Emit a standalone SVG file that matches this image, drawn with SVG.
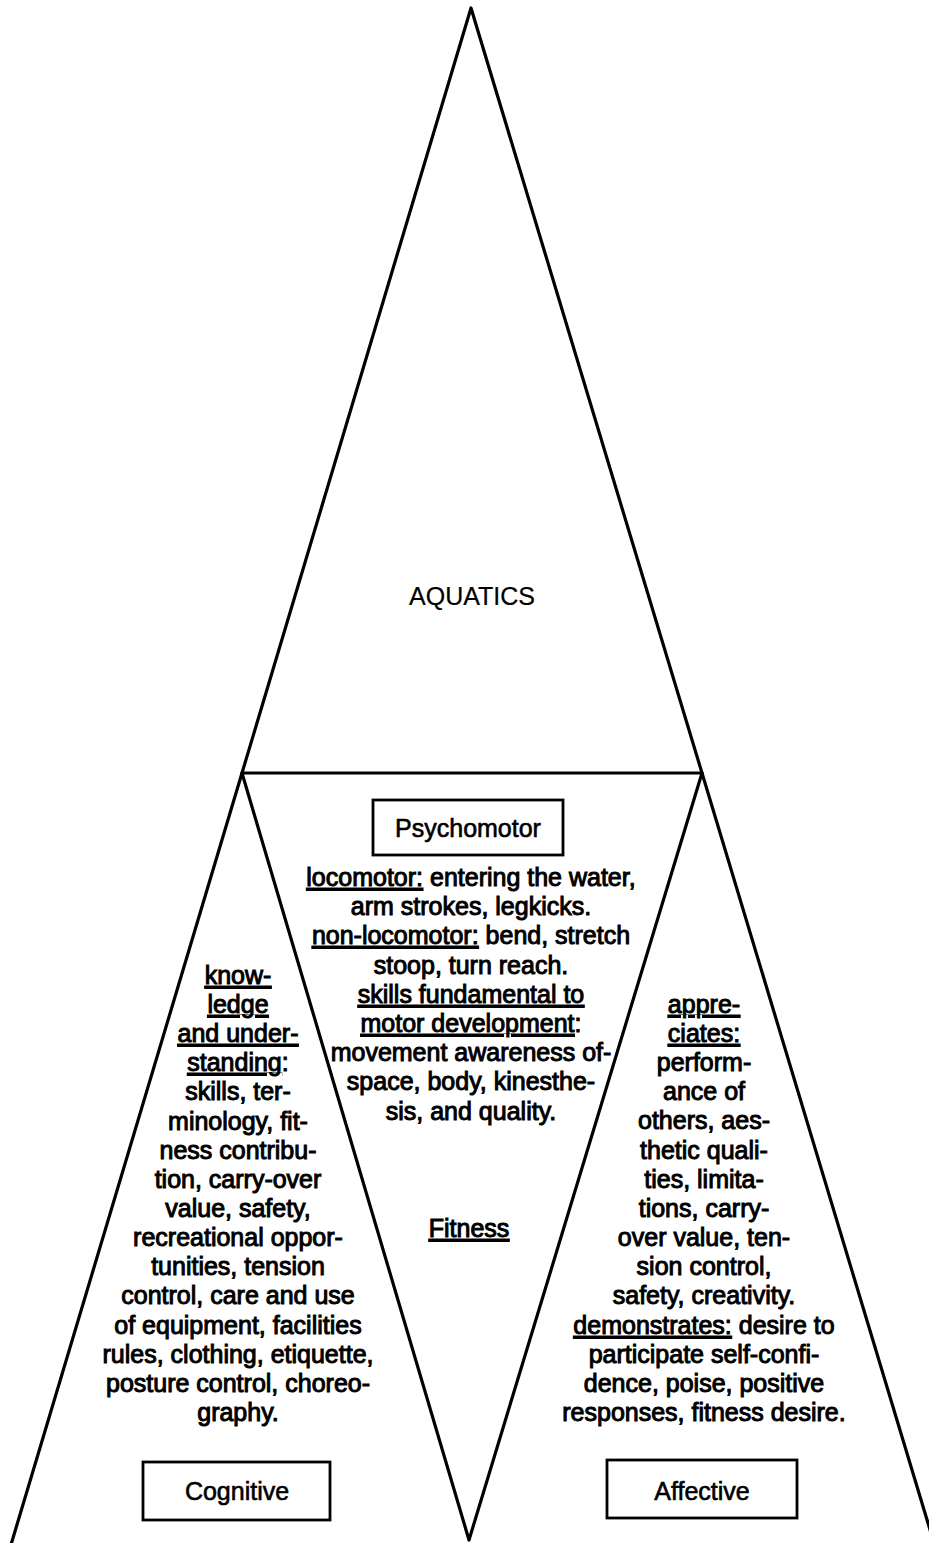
<svg xmlns="http://www.w3.org/2000/svg" width="929" height="1543" viewBox="0 0 929 1543">
<style>
.ln{fill:none;stroke:#000;stroke-width:3.2;stroke-linecap:round;stroke-linejoin:round}
.box{fill:#fff;stroke:#000;stroke-width:2.8}
.t{font-family:"Liberation Sans",Arial,Helvetica,sans-serif;font-size:25px;fill:#000;stroke:#000;stroke-width:1;text-anchor:middle}
.h{font-family:"Liberation Sans",Arial,Helvetica,sans-serif;font-size:25px;fill:#000;stroke:#000;stroke-width:0.6;text-anchor:middle}
.u{text-decoration:underline}
</style>
<rect width="929" height="1543" fill="#fff"/>
<g id="connectors">
<polyline class="ln" points="11.5,1543 242,773 471,8 702,773 934,1543"/>
<line class="ln" x1="242" y1="773" x2="702" y2="773"/>
<polyline class="ln" points="242,773 469,1540 702,773"/>
</g>
<g id="aquatics">
<text class="h" x="472" y="605" style="stroke-width:0.2">AQUATICS</text>
</g>
<g id="psychomotor">
<rect class="box" x="373" y="800" width="190" height="55"/>
<text class="h" x="468" y="837">Psychomotor</text>
<text class="t" x="471" y="886"><tspan class="u">locomotor:</tspan> entering the water,</text>
<text class="t" x="471" y="915">arm strokes, legkicks.</text>
<text class="t" x="471" y="944"><tspan class="u">non-locomotor:</tspan> bend, stretch</text>
<text class="t" x="471" y="974">stoop, turn reach.</text>
<text class="t" x="471" y="1003"><tspan class="u">skills fundamental to</tspan></text>
<text class="t" x="471" y="1032"><tspan class="u">motor development</tspan>:</text>
<text class="t" x="471" y="1061">movement awareness of-</text>
<text class="t" x="471" y="1090">space, body, kinesthe-</text>
<text class="t" x="471" y="1120">sis, and quality.</text>
</g>
<g id="fitness">
<text class="t" x="469" y="1237"><tspan class="u">Fitness</tspan></text>
</g>
<g id="cognitive">
<text class="t" x="238" y="984"><tspan class="u">know-</tspan></text>
<text class="t" x="238" y="1013"><tspan class="u">ledge</tspan></text>
<text class="t" x="238" y="1042"><tspan class="u">and under-</tspan></text>
<text class="t" x="238" y="1071"><tspan class="u">standing</tspan>:</text>
<text class="t" x="238" y="1100">skills, ter-</text>
<text class="t" x="238" y="1130">minology, fit-</text>
<text class="t" x="238" y="1159">ness contribu-</text>
<text class="t" x="238" y="1188">tion, carry-over</text>
<text class="t" x="238" y="1217">value, safety,</text>
<text class="t" x="238" y="1246">recreational oppor-</text>
<text class="t" x="238" y="1275">tunities, tension</text>
<text class="t" x="238" y="1304">control, care and use</text>
<text class="t" x="238" y="1334">of equipment, facilities</text>
<text class="t" x="238" y="1363">rules, clothing, etiquette,</text>
<text class="t" x="238" y="1392">posture control, choreo-</text>
<text class="t" x="238" y="1421">graphy.</text>
<rect class="box" x="143" y="1462" width="187" height="58"/>
<text class="h" x="237" y="1500">Cognitive</text>
</g>
<g id="affective">
<text class="t" x="704" y="1013"><tspan class="u">appre-</tspan></text>
<text class="t" x="704" y="1042"><tspan class="u">ciates:</tspan></text>
<text class="t" x="704" y="1071">perform-</text>
<text class="t" x="704" y="1100">ance of</text>
<text class="t" x="704" y="1129">others, aes-</text>
<text class="t" x="704" y="1159">thetic quali-</text>
<text class="t" x="704" y="1188">ties, limita-</text>
<text class="t" x="704" y="1217">tions, carry-</text>
<text class="t" x="704" y="1246">over value, ten-</text>
<text class="t" x="704" y="1275">sion control,</text>
<text class="t" x="704" y="1304">safety, creativity.</text>
<text class="t" x="704" y="1334"><tspan class="u">demonstrates:</tspan> desire to</text>
<text class="t" x="704" y="1363">participate self-confi-</text>
<text class="t" x="704" y="1392">dence, poise, positive</text>
<text class="t" x="704" y="1421">responses, fitness desire.</text>
<rect class="box" x="607" y="1460" width="190" height="58"/>
<text class="h" x="702" y="1500">Affective</text>
</g>
</svg>
